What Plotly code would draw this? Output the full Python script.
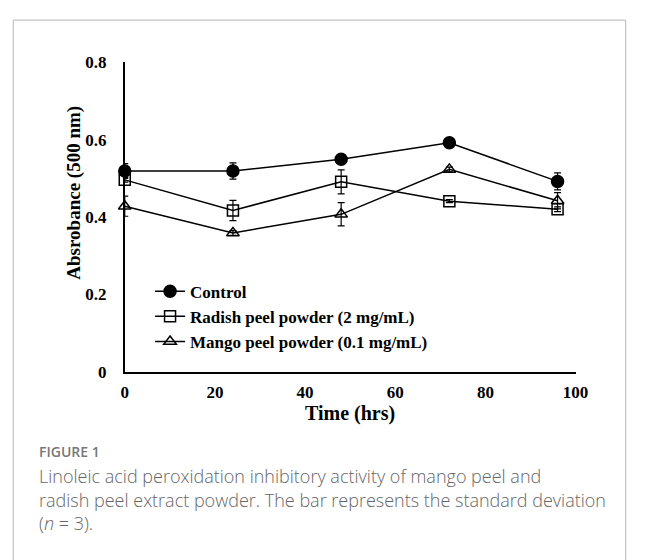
import plotly.graph_objects as go

W, H = 648, 560

# ---- data ----
time_hrs = [0, 24, 48, 72, 96]
control = [0.519, 0.519, 0.549, 0.592, 0.492]
control_sd = [0.019, 0.021, 0.006, 0.006, 0.022]
radish = [0.496, 0.417, 0.491, 0.441, 0.420]
radish_sd = [0.006, 0.026, 0.031, 0.004, 0.006]
mango = [0.428, 0.359, 0.407, 0.523, 0.442]
mango_sd = [0.026, 0.006, 0.030, 0.006, 0.021]
series_names = ["Control", "Radish peel powder (2 mg/mL)", "Mango peel powder (0.1 mg/mL)"]
x_ticks = [0, 20, 40, 60, 80, 100]
y_ticks = [0, 0.2, 0.4, 0.6, 0.8]
y_tick_text = ["0", "0.2", "0.4", "0.6", "0.8"]


def px(x):
    return x / W


def py(y):
    return (H - y) / H


serif = "Liberation Serif, Times New Roman, serif"
sans = "Open Sans, sans-serif"

fig = go.Figure()

specs = [
    (control, control_sd, "circle", 12),
    (radish, radish_sd, "square-open", 11),
    (mango, mango_sd, "triangle-up-open", 11),
]
for (vals, sd, sym, size), name in zip(specs, series_names):
    fig.add_trace(go.Scatter(
        x=time_hrs, y=vals, name=name, mode="lines+markers",
        line=dict(color="black", width=1.5),
        marker=dict(symbol=sym, size=size, color="black",
                    line=dict(color="black", width=1.5)),
        error_y=dict(type="data", array=sd, visible=True,
                     color="black", thickness=1.2, width=3.5),
        cliponaxis=False,
    ))

fig.update_layout(
    width=W, height=H,
    margin=dict(l=0, r=0, t=0, b=0),
    paper_bgcolor="white", plot_bgcolor="white",
    showlegend=True,
    legend=dict(
        x=px(150), y=py(274), xanchor="left", yanchor="top",
        font=dict(family=serif, size=17, color="black", weight="bold"),
        bgcolor="rgba(0,0,0,0)", itemwidth=30, tracegroupgap=0,
    ),
    xaxis=dict(
        domain=[px(124), px(587)], range=[0, 100],
        tickvals=x_ticks, ticks="", showgrid=False, zeroline=False,
        showline=True, linecolor="black", linewidth=1.5,
        tickfont=dict(family=serif, size=17, color="black", weight="bold"),
        ticklabelstandoff=4,
    ),
    yaxis=dict(
        domain=[py(375.7), py(55)], range=[0, 0.8],
        tickvals=y_ticks, ticktext=y_tick_text, ticks="", showgrid=False,
        zeroline=False, showline=True, linecolor="black", linewidth=1.5,
        tickfont=dict(family=serif, size=17, color="black", weight="bold"),
        ticklabelstandoff=13,
    ),
    annotations=[
        dict(text="Time (hrs)", x=px(355), y=py(419), xref="paper", yref="paper",
             showarrow=False, xanchor="center", yanchor="middle",
             font=dict(family=serif, size=20, color="black", weight="bold")),
        dict(text="Absrobance (500 nm)", x=px(71), y=py(190), xref="paper", yref="paper",
             showarrow=False, xanchor="center", yanchor="middle", textangle=-90,
             font=dict(family=serif, size=19, color="black", weight="bold")),
        dict(text="FIGURE 1", x=px(34), y=py(458), xref="paper", yref="paper",
             showarrow=False, xanchor="left", yanchor="middle",
             font=dict(family=sans, size=14, color="#777777", weight=600)),
        dict(text="Linoleic acid peroxidation inhibitory activity of mango peel and",
             x=px(34), y=py(483), xref="paper", yref="paper",
             showarrow=False, xanchor="left", yanchor="middle",
             font=dict(family=sans, size=18, color="#666666", weight=300)),
        dict(text="radish peel extract powder. The bar represents the standard deviation",
             x=px(34), y=py(508), xref="paper", yref="paper",
             showarrow=False, xanchor="left", yanchor="middle",
             font=dict(family=sans, size=18, color="#666666", weight=300)),
        dict(text="(<i>n</i> = 3).",
             x=px(34), y=py(532), xref="paper", yref="paper",
             showarrow=False, xanchor="left", yanchor="middle",
             font=dict(family=sans, size=18, color="#666666", weight=300)),
    ],
    shapes=[
        dict(type="rect", xref="paper", yref="paper",
             x0=px(9.5), x1=px(638.5), y0=py(575), y1=py(11.5),
             line=dict(color="#b5b5b5", width=1), fillcolor="rgba(0,0,0,0)"),
    ],
)

fig.write_html(
    "out.html",
    config={"displayModeBar": False},
    post_script="document.body.style.margin='0';document.body.style.overflow='hidden';",
)
